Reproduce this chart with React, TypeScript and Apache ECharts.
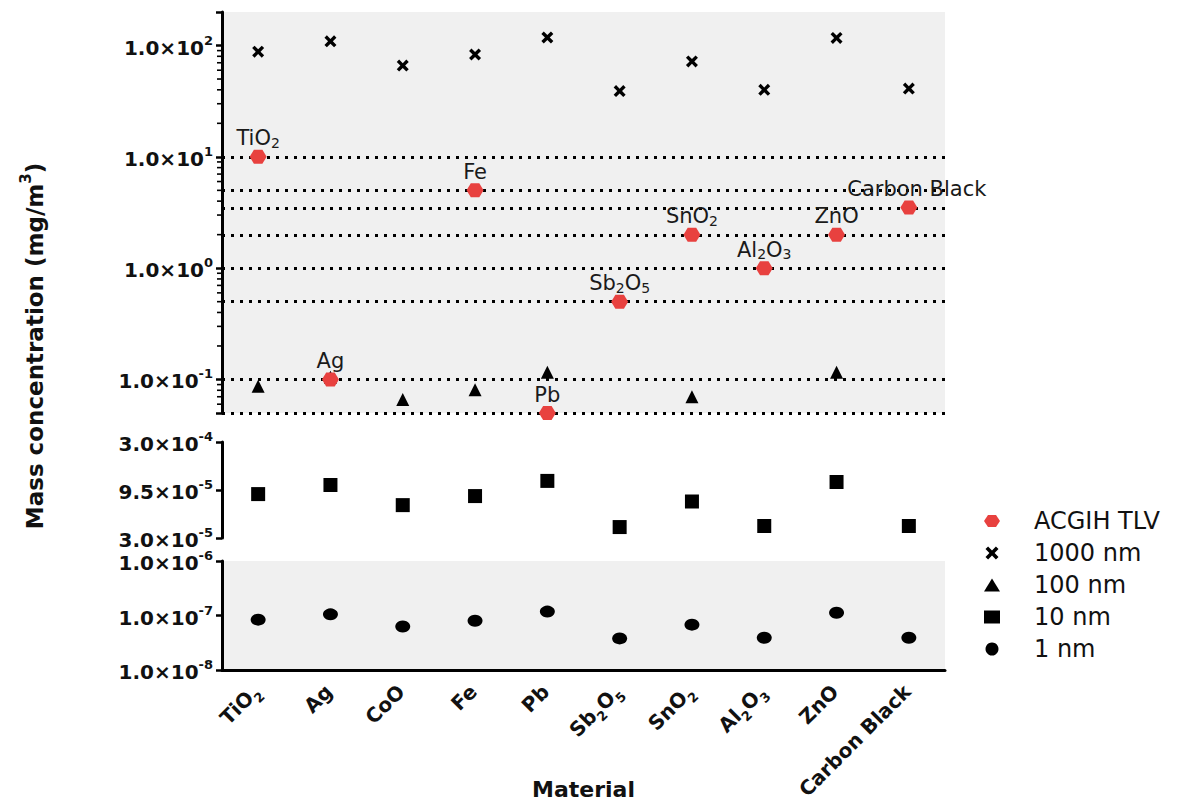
import React, { useEffect, useRef } from 'react';
import * as echarts from 'echarts';

// ---- data ----
const categories = ['TiO2', 'Ag', 'CoO', 'Fe', 'Pb', 'Sb2O5', 'SnO2', 'Al2O3', 'ZnO', 'Carbon Black'];
const categoryLabels = [
  '{b|TiO}{bs|2}', '{b|Ag}', '{b|CoO}', '{b|Fe}', '{b|Pb}',
  '{b|Sb}{bs|2}{b|O}{bs|5}', '{b|SnO}{bs|2}', '{b|Al}{bs|2}{b|O}{bs|3}', '{b|ZnO}', '{b|Carbon Black}',
];
const tlv: (number | null)[] = [10, 0.1, null, 5, 0.05, 0.5, 2, 1, 2, 3.5];
const tlvLabels = [
  '{t|TiO}{s|2}', '{t|Ag}', '', '{t|Fe}', '{t|Pb}',
  '{t|Sb}{s|2}{t|O}{s|5}', '{t|SnO}{s|2}', '{t|Al}{s|2}{t|O}{s|3}', '{t|ZnO}', '{t|Carbon Black}',
];
const nm1000 = [88, 109, 66, 83, 118, 39, 72, 40, 117, 41];
const nm100: (number | null)[] = [0.087, 0.105, 0.066, 0.081, 0.116, null, 0.07, null, 0.116, null];
const nm10 = [8.6e-5, 1.07e-4, 6.6e-5, 8.2e-5, 1.18e-4, 3.9e-5, 7.2e-5, 4.0e-5, 1.15e-4, 4.0e-5];
const nm1 = [8.4e-8, 1.05e-7, 6.3e-8, 8.0e-8, 1.18e-7, 3.8e-8, 6.8e-8, 3.9e-8, 1.12e-7, 3.9e-8];
const tlvLines = [10, 5, 3.5, 2, 1, 0.5, 0.1, 0.05];
const topRange = [0.05, 200];
const midRange = [3e-5, 3e-4];
const bottomRange = [1e-8, 1e-6];
const topMinorTicks = [
  0.06, 0.07, 0.08, 0.09, 0.2, 0.3, 0.4, 0.5, 0.6, 0.7, 0.8, 0.9,
  2, 3, 4, 5, 6, 7, 8, 9, 20, 30, 40, 50, 60, 70, 80, 90,
];
const legendNames = ['ACGIH TLV', '1000 nm', '100 nm', '10 nm', '1 nm'];

// ---- helpers ----
const lg = (v: number) => Math.log10(v);
const FONT = 'DejaVu Sans';
const TXT = '#111';

function fmtPow(x: number) {
  const e = Math.floor(Math.log10(x) + 1e-9);
  const m = x / Math.pow(10, e);
  return `{b|${m.toFixed(1)}×10}{s|${e}}`;
}

const yRich = {
  b: { fontFamily: FONT, fontWeight: 'bold', fontSize: 20, color: TXT, lineHeight: 24, verticalAlign: 'bottom' },
  s: { fontFamily: FONT, fontWeight: 'bold', fontSize: 13, color: TXT, lineHeight: 13, verticalAlign: 'top' },
};

const hexSymbol = 'path://M0,6L4,0L12,0L16,6L12,12L4,12Z';
const xSymbol = 'path://M0,2L2,0L5,3L8,0L10,2L7,5L10,8L8,10L5,7L2,10L0,8L3,5Z';

function pts(arr: (number | null)[], tf: (v: number) => number) {
  const out: any[] = [];
  arr.forEach((v, i) => {
    if (v != null) out.push([i, tf(v)]);
  });
  return out;
}

const GRID_L = 222;
const GRID_W = 723;

function yAxisBase(gridIndex: number) {
  return {
    type: 'value',
    gridIndex,
    axisLine: { show: true, onZero: false, lineStyle: { color: '#000', width: 3 } },
    axisTick: { show: true, length: 6, lineStyle: { color: '#000', width: 2.5 } },
    splitLine: { show: false },
    axisLabel: { margin: 9, rich: yRich, showMinLabel: true, showMaxLabel: true },
  };
}

export default function App() {
  const ref = useRef<HTMLDivElement>(null);

  useEffect(() => {
    document.body.style.margin = '0';
    if (!ref.current) return;
    const chart = echarts.init(ref.current, undefined, { renderer: 'svg' });

    const isInt = (v: number) => Math.abs(v - Math.round(v)) < 1e-6;

    const option: any = {
      animation: false,
      backgroundColor: '#fff',
      grid: [
        { left: GRID_L, top: 12, width: GRID_W, height: 401, show: true, backgroundColor: '#f0f0f0', borderWidth: 0, outerBoundsMode: 'none' },
        { left: GRID_L, top: 442, width: GRID_W, height: 96, outerBoundsMode: 'none' },
        { left: GRID_L, top: 561, width: GRID_W, height: 109, show: true, backgroundColor: '#f0f0f0', borderWidth: 0, outerBoundsMode: 'none' },
      ],
      xAxis: [
        { type: 'category', gridIndex: 0, data: categories, show: false },
        { type: 'category', gridIndex: 1, data: categories, show: false },
        {
          type: 'category',
          gridIndex: 2,
          data: categories,
          axisLine: { lineStyle: { color: '#000', width: 3 } },
          axisTick: { alignWithLabel: true, length: 8, lineStyle: { color: '#000', width: 2.5 } },
          axisLabel: {
            rotate: 45,
            margin: 20,
            interval: 0,
            formatter: (_v: string, i: number) => categoryLabels[i],
            rich: {
              b: { fontFamily: FONT, fontWeight: 'bold', fontSize: 20, color: TXT, lineHeight: 25, verticalAlign: 'top' },
              bs: { fontFamily: FONT, fontWeight: 'bold', fontSize: 13, color: TXT, lineHeight: 12, verticalAlign: 'bottom' },
            },
          },
          name: 'Material',
          nameLocation: 'middle',
          nameGap: 108,
          nameMoveOverlap: false,
          nameTextStyle: { fontFamily: FONT, fontWeight: 'bold', fontSize: 22, color: TXT },
        },
      ],
      yAxis: [
        {
          ...yAxisBase(0),
          min: lg(topRange[0]),
          max: lg(topRange[1]),
          splitNumber: 4,
          axisLabel: {
            ...yAxisBase(0).axisLabel,
            formatter: (v: number) => (isInt(v) ? fmtPow(Math.pow(10, Math.round(v))) : ''),
          },
        },
        {
          ...yAxisBase(1),
          min: 0,
          max: lg(midRange[1] / midRange[0]),
          interval: 0.5,
          axisLabel: {
            ...yAxisBase(1).axisLabel,
            formatter: (v: number) => fmtPow(midRange[0] * Math.pow(10, v)),
          },
        },
        {
          ...yAxisBase(2),
          min: lg(bottomRange[0]),
          max: lg(bottomRange[1]),
          interval: 1,
          axisLabel: {
            ...yAxisBase(2).axisLabel,
            formatter: (v: number) => fmtPow(Math.pow(10, Math.round(v))),
          },
        },
      ],
      legend: {
        orient: 'vertical',
        left: 979,
        top: 504,
        itemWidth: 16,
        itemHeight: 13,
        itemGap: 8,
        selectedMode: false,
        data: legendNames,
        textStyle: { fontFamily: FONT, fontSize: 24, color: TXT, lineHeight: 24, padding: [0, 0, 0, 29] },
      },
      graphic: [
        {
          type: 'text',
          x: 32,
          y: 346,
          rotation: Math.PI / 2,
          style: {
            text: '{t|Mass concentration (mg/m}{s|3}{t|)}',
            align: 'center',
            verticalAlign: 'middle',
            rich: {
              t: { fontFamily: FONT, fontWeight: 'bold', fontSize: 23, fill: TXT, color: TXT, lineHeight: 28, verticalAlign: 'bottom' },
              s: { fontFamily: FONT, fontWeight: 'bold', fontSize: 15, fill: TXT, color: TXT, lineHeight: 14, verticalAlign: 'top' },
            },
          },
        },
      ],
      series: [
        {
          type: 'custom',
          xAxisIndex: 0,
          yAxisIndex: 0,
          silent: true,
          clip: false,
          data: topMinorTicks.map((v) => [0, lg(v)]),
          renderItem: (params: any, api: any) => {
            const p = api.coord([0, api.value(1)]);
            const cs = params.coordSys;
            return {
              type: 'line',
              shape: { x1: cs.x - 5, y1: p[1], x2: cs.x, y2: p[1] },
              style: { stroke: '#000', lineWidth: 1.6 },
            };
          },
        },
        {
          name: '1000 nm',
          type: 'scatter',
          xAxisIndex: 0,
          yAxisIndex: 0,
          symbol: xSymbol,
          symbolSize: 12,
          itemStyle: { color: '#000', opacity: 1 },
          data: pts(nm1000, lg),
          z: 2,
        },
        {
          name: '100 nm',
          type: 'scatter',
          xAxisIndex: 0,
          yAxisIndex: 0,
          symbol: 'triangle',
          symbolSize: 13,
          itemStyle: { color: '#000', opacity: 1 },
          data: pts(nm100, lg),
          z: 2,
        },
        {
          name: 'ACGIH TLV',
          type: 'scatter',
          xAxisIndex: 0,
          yAxisIndex: 0,
          symbol: hexSymbol,
          symbolSize: [17, 14],
          itemStyle: { color: '#e8413f', opacity: 1 },
          z: 4,
          data: pts(tlv, lg).map((d) =>
            d[0] === 9 ? { value: d, label: { offset: [8, 0] } } : { value: d }
          ),
          label: {
            show: true,
            position: 'top',
            distance: 0,
            formatter: (p: any) => tlvLabels[p.value[0]],
            rich: {
              t: { fontFamily: FONT, fontSize: 21, color: '#1a1a1a', lineHeight: 22, verticalAlign: 'top' },
              s: { fontFamily: FONT, fontSize: 14, color: '#1a1a1a', lineHeight: 6, verticalAlign: 'bottom' },
            },
          },
          markLine: {
            silent: true,
            z: 1,
            symbol: ['none', 'none'],
            label: { show: false },
            lineStyle: { color: '#000', width: 3, type: [3, 6], opacity: 1 },
            emphasis: { disabled: true },
            data: tlvLines.map((v) => ({ yAxis: lg(v) })),
          },
        },
        {
          name: '10 nm',
          type: 'scatter',
          xAxisIndex: 1,
          yAxisIndex: 1,
          symbol: 'rect',
          symbolSize: 14,
          itemStyle: { color: '#000', opacity: 1 },
          data: pts(nm10, (v) => lg(v / midRange[0])),
        },
        {
          name: '1 nm',
          type: 'scatter',
          xAxisIndex: 2,
          yAxisIndex: 2,
          symbol: 'circle',
          symbolSize: [15, 12],
          itemStyle: { color: '#000', opacity: 1 },
          data: pts(nm1, lg),
        },
      ],
    };

    chart.setOption(option);
    return () => chart.dispose();
  }, []);

  return <div ref={ref} style={{ width: 1184, height: 807 }} />;
}
